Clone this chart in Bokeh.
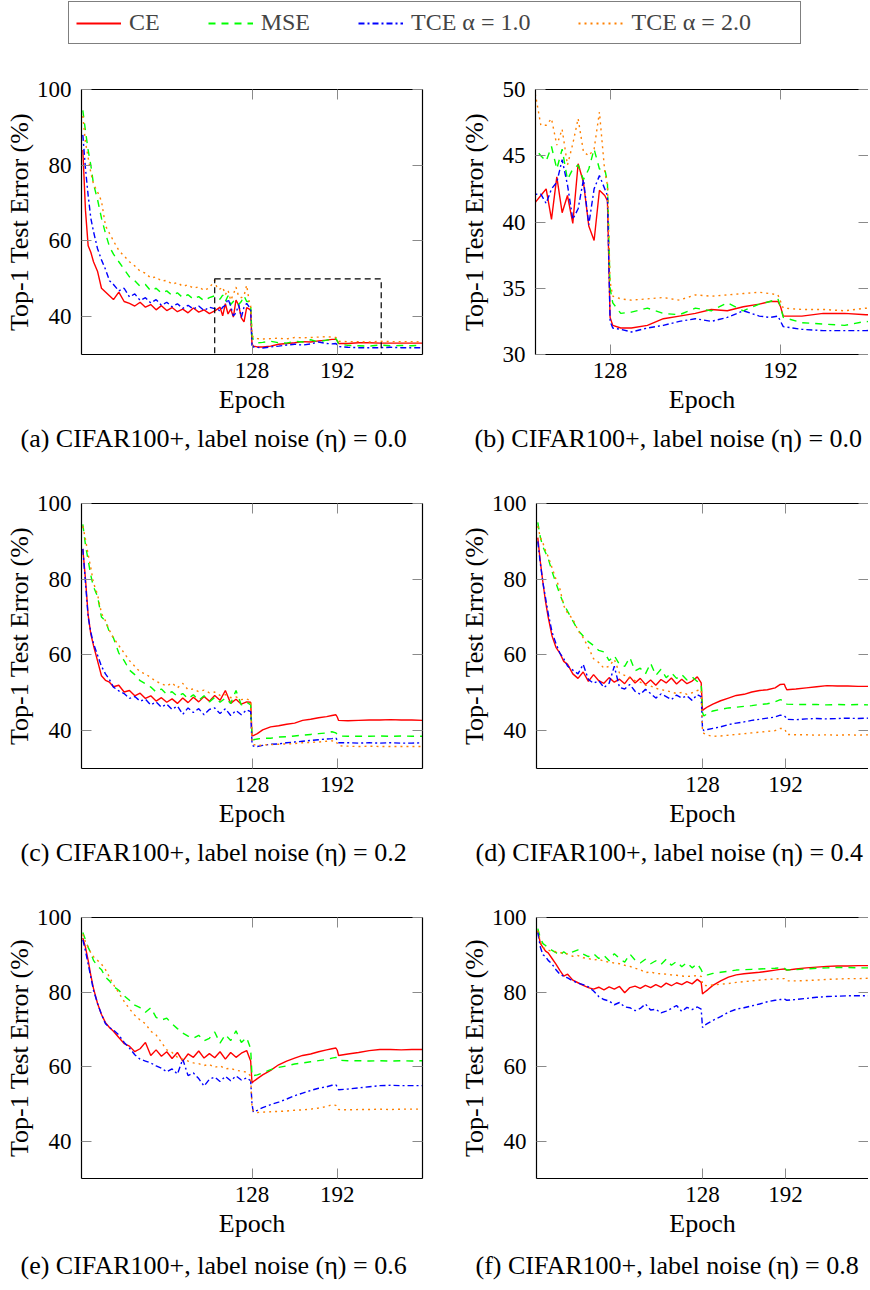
from bokeh.plotting import figure
from bokeh.layouts import column, row
from bokeh.models import Range1d, FixedTicker, LinearAxis, Legend, LegendItem, Title
from bokeh.embed import file_html
from bokeh.resources import INLINE

# ---------------- data ----------------
EPOCHS = [1, 3, 5, 7, 9, 12, 15, 18, 21, 24, 28, 32, 36, 40, 44, 48, 52, 56, 60, 64,
          68, 72, 76, 80, 84, 88, 92, 96, 100, 104, 108, 112, 116, 120, 124, 127,
          128, 129, 132, 136, 142, 148, 154, 160, 166, 172, 178, 184, 188, 191, 192, 193,
          200, 208, 216, 224, 232, 240, 248, 256]
# noise-free run is also shown zoomed in, so it is sampled more densely over epochs 100-127
EPOCHS_00 = [1, 3, 5, 7, 9, 12, 15, 18, 21, 24, 28, 32, 36, 40, 44, 48, 52, 56, 60, 64,
             68, 72, 76, 80, 84, 88, 92, 96,
             100, 102, 104, 106, 108, 110, 112, 114, 116, 118, 120, 122, 124, 126, 127,
             128, 129, 132, 136, 142, 148, 154, 160, 166, 172, 178, 184, 188, 191, 192, 193,
             200, 208, 216, 224, 232, 240, 248, 256]

X_TICKS = [128, 192]
Y_TICKS_FULL = [40, 60, 80, 100]
Y_TICKS_ZOOM = [30, 35, 40, 45, 50]
FULL_X = (0, 256)
FULL_Y = (30, 100)
ZOOM_X = (100, 225)
ZOOM_Y = (30, 50)

SERIES_NAMES = ["CE", "MSE", "TCE α = 1.0", "TCE α = 2.0"]

# label noise 0.0 (epochs: EPOCHS_00)
CE_00 = [84, 68, 58.7, 57, 54.5, 52, 47.5, 46.5, 45.5, 44.5, 46.5, 44.0, 43.5, 42.8, 43.8, 42.5, 43.2, 41.8, 42.9, 41.6,
         42.4, 41.3, 42.0, 41.0, 42.3, 41.2, 41.8, 40.8,
         41.5, 42.0, 42.5, 40.2, 43.4, 40.7, 42.0, 39.9, 44.4, 43.0, 39.7, 38.6, 42.4, 42.0, 41.6,
         32.8, 32.2, 32.0, 32.0, 32.2, 32.7, 32.9, 33.1, 33.4, 33.3, 33.6, 33.8, 34.0, 34.0, 33.6, 32.9,
         32.9, 33.1, 33.1, 33.0, 33.0, 33.0, 33.0, 33.0]
MSE_00 = [94.5, 89, 84, 80, 75, 71, 66, 62, 58.5, 56.5, 54.5, 52.5, 50.5, 49.5, 48.0, 48.5, 46.8, 47.5, 46.2, 46.8,
          45.6, 46.3, 45.0, 45.8, 44.6, 45.3, 44.2, 45.0,
          45.5, 45.0, 44.6, 45.7, 44.0, 45.5, 43.2, 44.0, 44.3, 43.2, 44.0, 45.5, 44.0, 44.0, 43.0,
          35.0, 33.9, 33.1, 33.2, 33.5, 33.1, 33.0, 33.5, 33.3, 33.9, 33.3, 33.8, 34.0, 34.2, 33.6, 32.8,
          32.4, 32.3, 32.2, 32.5, 32.3, 32.4, 32.3, 32.5]
TCE1_00 = [88, 79, 72, 66, 62.5, 58, 55, 52.5, 49.5, 48.5, 46.8, 47.5, 45.2, 46.0, 44.3, 45.0, 43.6, 44.5, 43.0, 43.8,
           42.6, 43.4, 42.2, 43.0, 42.0, 42.8, 41.6, 42.5,
           42.1, 42.1, 41.4, 42.5, 43.0, 44.7, 42.8, 40.2, 41.0, 43.2, 39.8, 42.5, 43.5, 42.5, 42.0,
           32.5, 32.0, 31.9, 31.7, 32.0, 32.2, 32.5, 32.7, 32.5, 32.8, 33.3, 32.9, 32.8, 32.9, 32.5, 32.1,
           31.9, 31.8, 31.8, 31.8, 31.9, 31.8, 31.8, 31.8]
TCE2_00 = [93, 86, 82, 78, 75, 73, 70.5, 64, 62, 60, 57.5, 56, 54.5, 53.4, 52.0, 51.5, 50.2, 50.5, 49.4, 49.6,
           48.6, 49.0, 48.0, 48.4, 47.5, 47.9, 46.9, 47.6,
           49.6, 47.3, 47.3, 47.8, 45.8, 47.0, 44.3, 45.9, 47.8, 45.3, 45.0, 45.5, 48.3, 43.8, 42.8,
           35.5, 34.4, 34.2, 34.1, 34.2, 34.3, 34.1, 34.5, 34.4, 34.5, 34.6, 34.7, 34.6, 34.5, 34.0, 33.5,
           33.4, 33.4, 33.3, 33.5, 33.4, 33.4, 33.4, 33.3]

# label noise 0.2
CE_02 = [88, 80, 70.5, 65.5, 62.5, 58.5, 54.5, 53.3, 52.8, 51.6, 52.0, 50.2, 50.6, 49.2, 49.9, 48.5, 49.2, 47.8, 48.7, 47.5,
         48.4, 47.2, 48.6, 47.4, 48.8, 47.6, 49.0, 47.8, 49.3, 48.0, 50.6, 47.2, 48.3, 47.0, 47.6, 47.5,
         38.6, 38.7, 39.2, 40.2, 41.0, 41.3, 41.7, 42.0, 42.7, 43.0, 43.4, 43.7, 44.0, 44.2, 43.6, 42.7,
         42.6, 42.7, 42.8, 42.8, 42.9, 42.8, 42.8, 42.7]
MSE_02 = [94.5, 89, 85, 81, 78, 75.5, 70, 69, 66, 64.5, 60.5, 58.5, 56, 54.8, 53.2, 52.4, 51.5, 50.2, 51.0, 49.6,
          50.3, 49.0, 49.8, 48.4, 49.5, 48.0, 49.2, 47.6, 48.8, 47.5, 48.6, 47.2, 50.6, 46.8, 47.5, 46.8,
          38.2, 37.6, 37.8, 38.0, 38.0, 38.3, 38.4, 38.6, 38.8, 39.0, 39.2, 39.4, 39.7, 39.4, 39.0, 38.6,
          38.5, 38.5, 38.5, 38.6, 38.5, 38.6, 38.5, 38.5]
TCE1_02 = [88, 79, 70, 66, 63, 60, 57, 55, 53.5, 51.5, 50.5, 49.8, 48.5, 49.0, 47.8, 48.3, 46.8, 47.6, 46.2, 47.0,
           45.6, 46.5, 44.3, 46.0, 44.8, 45.8, 44.2, 45.6, 46.0, 44.5, 45.8, 44.0, 45.3, 44.2, 45.5, 45.0,
           36.8, 35.9, 35.8, 36.1, 36.4, 36.5, 36.8, 37.0, 37.2, 37.4, 37.6, 37.8, 37.9, 38.0, 37.5, 36.8,
           36.8, 36.7, 36.8, 36.7, 36.8, 36.7, 36.7, 36.8]
TCE2_02 = [94, 90.5, 86.5, 83, 79, 76, 71, 69, 66.5, 64.5, 62.5, 60.5, 58.5, 57.0, 55.5, 55.0, 54.0, 53.0, 52.4, 51.8,
           52.6, 51.3, 52.5, 50.8, 51.0, 50.3, 50.7, 50.0, 50.2, 49.3, 49.5, 48.7, 48.9, 48.2, 48.4, 47.8,
           37.2, 36.4, 36.0, 36.2, 36.3, 36.4, 36.5, 36.6, 36.8, 36.9, 37.0, 37.2, 37.3, 37.2, 36.6, 36.0,
           35.9, 35.8, 35.9, 35.8, 35.8, 35.8, 35.8, 35.8]

# label noise 0.4
CE_04 = [91, 84.5, 79, 74, 70, 65, 62, 60.5, 58.3, 57.5, 55.0, 53.8, 55.5, 53.0, 54.8, 53.2, 52.5, 54.0, 52.8, 53.6,
         52.4, 54.2, 52.6, 53.8, 52.2, 53.4, 52.0, 53.5, 52.6, 53.9, 52.3, 53.6, 52.4, 53.1, 54.2, 52.6,
         45.3, 45.6, 46.3, 47.0, 47.9, 48.6, 49.3, 49.6, 50.2, 50.6, 50.8, 51.3, 52.2, 52.3, 51.5, 50.8,
         51.0, 51.3, 51.6, 51.9, 51.8, 51.8, 51.7, 51.7]
MSE_04 = [95, 91, 88.5, 87, 85.5, 82, 79, 76, 73.5, 71.5, 69, 66.5, 65, 63.5, 62.5, 61.2, 60.8, 58.5, 59.8, 57.5,
          57.0, 59.3, 55.8, 56.5, 55.0, 57.8, 54.6, 56.2, 54.0, 55.3, 53.8, 54.8, 53.4, 54.2, 53.0, 52.4,
          44.8, 43.9, 44.5, 45.2, 45.6, 46.0, 46.2, 46.4, 46.6, 46.9, 47.1, 47.6, 48.2, 47.9, 47.5, 47.0,
          46.9, 46.9, 46.9, 46.8, 46.9, 46.8, 46.9, 46.8]
TCE1_04 = [90, 84, 79, 75, 71, 66, 63, 60.5, 59, 57, 56.0, 55.0, 57.5, 53.5, 52.5, 53.2, 51.4, 52.5, 57.0, 51.4,
           51.0, 52.2, 50.4, 49.6, 50.9, 49.8, 48.6, 49.7, 49.0, 48.2, 49.4, 48.6, 49.2, 48.0, 49.5, 49.0,
           40.5, 40.0, 40.3, 40.6, 41.0, 41.6, 42.0, 42.3, 42.7, 43.0, 43.3, 43.6, 44.1, 43.9, 43.6, 43.0,
           42.9, 43.1, 43.2, 43.1, 43.2, 43.3, 43.2, 43.3]
TCE2_04 = [94, 91, 89.5, 87.5, 86, 83, 80, 77.5, 73, 71, 69.5, 66.5, 64.5, 62, 59, 58, 56.5, 57.0, 58.8, 55.2,
           54.6, 53.8, 53.2, 52.8, 52.0, 51.8, 51.2, 50.8, 50.6, 50.2, 49.8, 50.1, 49.6, 50.0, 50.6, 50.8,
           39.8, 39.3, 38.8, 38.5, 38.6, 38.8, 39.0, 39.2, 39.4, 39.6, 39.8, 40.0, 40.6, 40.5, 40.0, 39.0,
           38.9, 38.9, 38.8, 38.9, 38.8, 38.9, 38.8, 38.9]

# label noise 0.6
CE_06 = [94.5, 92, 88.5, 84.5, 81, 77, 74, 71.8, 70.5, 69.5, 67.8, 66.2, 65.5, 64.0, 64.8, 66.5, 63.0, 64.5, 62.8, 64.0,
         62.2, 63.8, 61.5, 63.4, 62.5, 64.2, 62.3, 63.5, 62.4, 64.0, 62.0, 63.8, 62.5, 63.6, 64.3, 61.5,
         55.6, 56.0, 56.8, 57.8, 59.0, 60.5, 61.5, 62.3, 63.0, 63.4, 64.0, 64.5, 64.8, 65.0, 64.4, 63.0,
         63.4, 63.8, 64.3, 64.6, 64.6, 64.5, 64.6, 64.6]
MSE_06 = [96, 94, 92, 90.5, 88.5, 87, 86, 84, 83, 81.5, 80.5, 79, 77.8, 76.5, 75.8, 74.6, 75.8, 73.2, 72.5, 73.0,
          71.5, 70.2, 69.0, 68.2, 67.6, 68.4, 66.9, 67.6, 69.3, 66.3, 68.6, 67.0, 69.6, 66.5, 67.8, 64.8,
          57.4, 57.6, 57.8, 58.3, 59.2, 59.8, 60.2, 60.7, 61.0, 61.3, 61.6, 61.9, 62.3, 62.5, 62.2, 61.7,
          61.6, 61.6, 61.5, 61.6, 61.5, 61.6, 61.5, 61.6]
TCE1_06 = [94, 91, 87.5, 84, 80.5, 77, 74, 71.5, 70.5, 69.8, 68.5, 66.5, 65.0, 63.2, 62.0, 61.5, 61.0, 60.2, 59.6, 58.6,
           59.4, 58.0, 62.0, 57.6, 58.3, 56.8, 54.8, 56.6, 57.2, 56.0, 57.4, 56.2, 57.5, 56.4, 57.0, 56.2,
           50.0, 47.8, 48.3, 49.0, 49.8, 50.5, 51.3, 52.2, 52.9, 53.6, 54.2, 54.6, 55.0, 55.1, 54.6, 53.8,
           54.0, 54.3, 54.6, 54.9, 55.0, 54.9, 54.9, 54.9]
TCE2_06 = [95.5, 93.5, 92, 90.5, 89.5, 88.5, 87.5, 86, 84, 82, 79.8, 77.5, 75.5, 73.8, 72.5, 71.5, 69.5, 68.5, 66.5, 64.5,
           63.8, 62.5, 62.0, 61.5, 61.0, 60.8, 60.3, 60.6, 59.8, 60.2, 59.4, 59.6, 59.0, 58.8, 58.5, 57.5,
           49.0, 48.0, 47.7, 47.8, 47.9, 48.0, 48.1, 48.3, 48.4, 48.6, 48.9, 49.3, 49.8, 49.6, 49.3, 48.5,
           48.4, 48.5, 48.5, 48.6, 48.5, 48.6, 48.6, 48.6]

# label noise 0.8
CE_08 = [96.5, 93, 92, 91, 90.5, 89, 87.5, 85.8, 84.3, 84.8, 83.2, 82.5, 81.8, 81.2, 80.8, 81.3, 80.6, 81.4, 80.8, 81.5,
         79.8, 81.2, 81.6, 81.0, 81.8, 81.2, 82.0, 81.3, 82.4, 81.7, 82.5, 82.0, 82.8, 82.2, 83.4, 82.6,
         79.5, 79.8, 80.6, 81.8, 83.0, 84.0, 84.6, 84.9, 85.1, 85.3, 85.6, 85.9, 86.1, 86.2, 86.0, 85.9,
         86.2, 86.5, 86.7, 86.9, 87.0, 87.0, 87.1, 87.1]
MSE_08 = [97, 94.5, 93, 92.5, 91.8, 91.2, 90.6, 89.8, 90.8, 90.0, 90.8, 91.3, 90.2, 89.5, 90.3, 89.0, 89.8, 88.4, 90.3, 89.0,
          88.0, 90.2, 88.6, 87.8, 88.8, 87.6, 88.4, 87.4, 88.8, 87.2, 88.2, 86.8, 87.9, 86.5, 87.6, 86.0,
          85.2, 84.7, 84.6, 85.0, 85.3, 85.6, 85.9, 86.0, 86.1, 86.2, 86.3, 86.4, 86.5, 86.5, 86.2, 85.9,
          86.0, 86.2, 86.4, 86.5, 86.6, 86.6, 86.5, 86.5]
TCE1_08 = [96, 92, 90, 89.5, 88.5, 87.5, 86, 84.8, 84.2, 83.8, 83.0, 82.4, 82.0, 81.4, 80.3, 78.8, 78.0, 77.6, 76.6, 77.2,
           76.0, 75.8, 75.0, 75.6, 76.8, 75.2, 75.4, 74.4, 74.9, 75.6, 76.4, 74.8, 75.9, 75.3, 76.0, 75.4,
           70.5, 71.0, 71.6, 72.4, 73.4, 74.6, 75.4, 75.8, 76.3, 76.8, 77.4, 77.8, 78.0, 78.1, 78.0, 77.8,
           78.0, 78.3, 78.6, 78.8, 78.9, 79.0, 79.0, 79.0]
TCE2_08 = [96.5, 93.5, 92, 91.5, 91.2, 91.0, 90.8, 90.5, 90.6, 90.2, 89.6, 89.8, 89.2, 89.0, 88.6, 88.8, 88.3, 88.0, 87.8, 87.6,
           87.2, 86.9, 86.4, 86.0, 85.2, 85.4, 85.0, 84.9, 84.8, 84.6, 84.5, 84.3, 84.2, 84.3, 84.4, 84.2,
           82.2, 81.8, 81.7, 81.9, 82.1, 82.3, 82.6, 82.8, 83.0, 83.2, 83.4, 83.5, 83.6, 83.6, 83.3, 83.0,
           83.0, 83.1, 83.2, 83.4, 83.5, 83.6, 83.6, 83.7]

CAPTIONS = [
    "(a) CIFAR100+, label noise (η) = 0.0",
    "(b) CIFAR100+, label noise (η) = 0.0",
    "(c) CIFAR100+, label noise (η) = 0.2",
    "(d) CIFAR100+, label noise (η) = 0.4",
    "(e) CIFAR100+, label noise (η) = 0.6",
    "(f) CIFAR100+, label noise (η) = 0.8",
]

# ---------------- styling ----------------
FONT = "Liberation Serif"
COLORS = ["#ff0000", "#00ff00", "#0000ff", "#ff8000"]
DASHES = ["solid", "7 6", "6 3 2 3", "2 4"]
TICK_COLOR = "#8a8a8a"


def style_axis(ax, line_color="black"):
    ax.major_tick_in = 10
    ax.major_tick_out = 0
    ax.minor_tick_in = 0
    ax.minor_tick_out = 0
    ax.major_tick_line_color = TICK_COLOR
    ax.major_tick_line_width = 1
    ax.axis_line_color = line_color
    ax.axis_line_width = 1.2
    ax.major_label_text_font = FONT
    ax.major_label_text_font_size = "23px"
    ax.major_label_text_color = "black"
    ax.axis_label_text_font = FONT
    ax.axis_label_text_font_size = "26px"
    ax.axis_label_text_font_style = "normal"
    ax.axis_label_text_color = "black"


def make_panel(epochs, series, caption, xr, yr, yticks, width, height, border_left, border_right,
               border_bottom, caption_standoff, ylabel_standoff=0, right_line=True, box=None):
    p = figure(width=width, height=height, x_range=Range1d(*xr), y_range=Range1d(*yr),
               output_backend="svg", toolbar_location=None,
               min_border_left=border_left, min_border_right=border_right,
               min_border_top=30, min_border_bottom=border_bottom)
    p.outline_line_color = None
    p.grid.visible = False
    p.background_fill_color = "white"
    p.border_fill_color = "white"

    for ys, c, d in zip(series, COLORS, DASHES):
        p.line(epochs, ys, line_color=c, line_width=1.4, line_dash=d)

    if box is not None:
        (x0, x1), (y0, y1) = box
        p.quad(left=[x0], right=[x1], bottom=[y0], top=[y1], fill_color=None,
               line_color="black", line_width=1.2, line_dash="6 4")

    p.xaxis.ticker = FixedTicker(ticks=X_TICKS)
    p.yaxis.ticker = FixedTicker(ticks=yticks)
    for ax in p.xaxis + p.yaxis:
        style_axis(ax)
    p.xaxis.axis_label = "Epoch"
    p.xaxis.major_label_standoff = 8
    p.xaxis.axis_label_standoff = 4
    p.yaxis.axis_label = "Top-1 Test Error (%)"
    p.yaxis.major_label_standoff = 10
    p.yaxis.axis_label_standoff = ylabel_standoff

    top = LinearAxis(ticker=FixedTicker(ticks=X_TICKS),
                     major_label_overrides={t: "" for t in X_TICKS})
    style_axis(top)
    top.major_label_text_font_size = "1px"
    top.major_label_standoff = 0
    p.add_layout(top, "above")

    right = LinearAxis(ticker=FixedTicker(ticks=yticks),
                       major_label_overrides={t: "" for t in yticks})
    style_axis(right, "black" if right_line else None)
    right.major_label_text_font_size = "1px"
    right.major_label_standoff = 0
    p.add_layout(right, "right")

    p.add_layout(Title(text=caption, align="left", offset=-61, standoff=caption_standoff,
                       text_font=FONT, text_font_size="26px", text_font_style="normal",
                       text_color="black"), "below")
    return p


S00 = [CE_00, MSE_00, TCE1_00, TCE2_00]
S02 = [CE_02, MSE_02, TCE1_02, TCE2_02]
S04 = [CE_04, MSE_04, TCE1_04, TCE2_04]
S06 = [CE_06, MSE_06, TCE1_06, TCE2_06]
S08 = [CE_08, MSE_08, TCE1_08, TCE2_08]

LW, RW = 456, 412
LB, RB = 81, 74
pa = make_panel(EPOCHS_00, S00, CAPTIONS[0], FULL_X, FULL_Y, Y_TICKS_FULL, LW, 414, LB, 34, 119, 11,
                box=(ZOOM_X, ZOOM_Y))
pb = make_panel(EPOCHS_00, S00, CAPTIONS[1], ZOOM_X, ZOOM_Y, Y_TICKS_ZOOM, RW, 414, RB, 0, 119, 11,
                ylabel_standoff=11, right_line=False)
pc = make_panel(EPOCHS, S02, CAPTIONS[2], FULL_X, FULL_Y, Y_TICKS_FULL, LW, 414, LB, 34, 119, 11)
pd = make_panel(EPOCHS, S04, CAPTIONS[3], FULL_X, FULL_Y, Y_TICKS_FULL, RW, 414, RB, 0, 119, 11,
                right_line=False)
pe = make_panel(EPOCHS, S06, CAPTIONS[4], FULL_X, FULL_Y, Y_TICKS_FULL, LW, 401, LB, 34, 106, 17)
pf = make_panel(EPOCHS, S08, CAPTIONS[5], FULL_X, FULL_Y, Y_TICKS_FULL, RW, 401, RB, 0, 106, 17,
                right_line=False)

# ---------------- shared legend ----------------
leg = figure(width=868, height=59, x_range=Range1d(-20, -10), y_range=Range1d(0, 1),
             x_axis_type=None, y_axis_type=None, min_border=0,
             output_backend="svg", toolbar_location=None)
leg.outline_line_color = None
items = []
PAD_LAST = "\u00a0" * 7
for i, (name, ys, c, d) in enumerate(zip(SERIES_NAMES, S00, COLORS, DASHES)):
    r = leg.line(EPOCHS_00, ys, line_color=c, line_width=2, line_dash=d)
    label = name + (PAD_LAST if i == len(SERIES_NAMES) - 1 else "")
    items.append(LegendItem(label=label, renderers=[r]))
legend = Legend(items=items, orientation="horizontal", location=(68, 15),
                padding=7, spacing=48, label_standoff=8, glyph_width=45, glyph_height=20,
                margin=0, border_line_color="black", border_line_width=1.2,
                label_text_font=FONT, label_text_font_size="24px",
                background_fill_color="white", background_fill_alpha=1)
leg.add_layout(legend, "center")

layout = column(leg, row(pa, pb), row(pc, pd), row(pe, pf))
open("out.html", "w").write(file_html(layout, INLINE, title="CIFAR100+ test error"))
